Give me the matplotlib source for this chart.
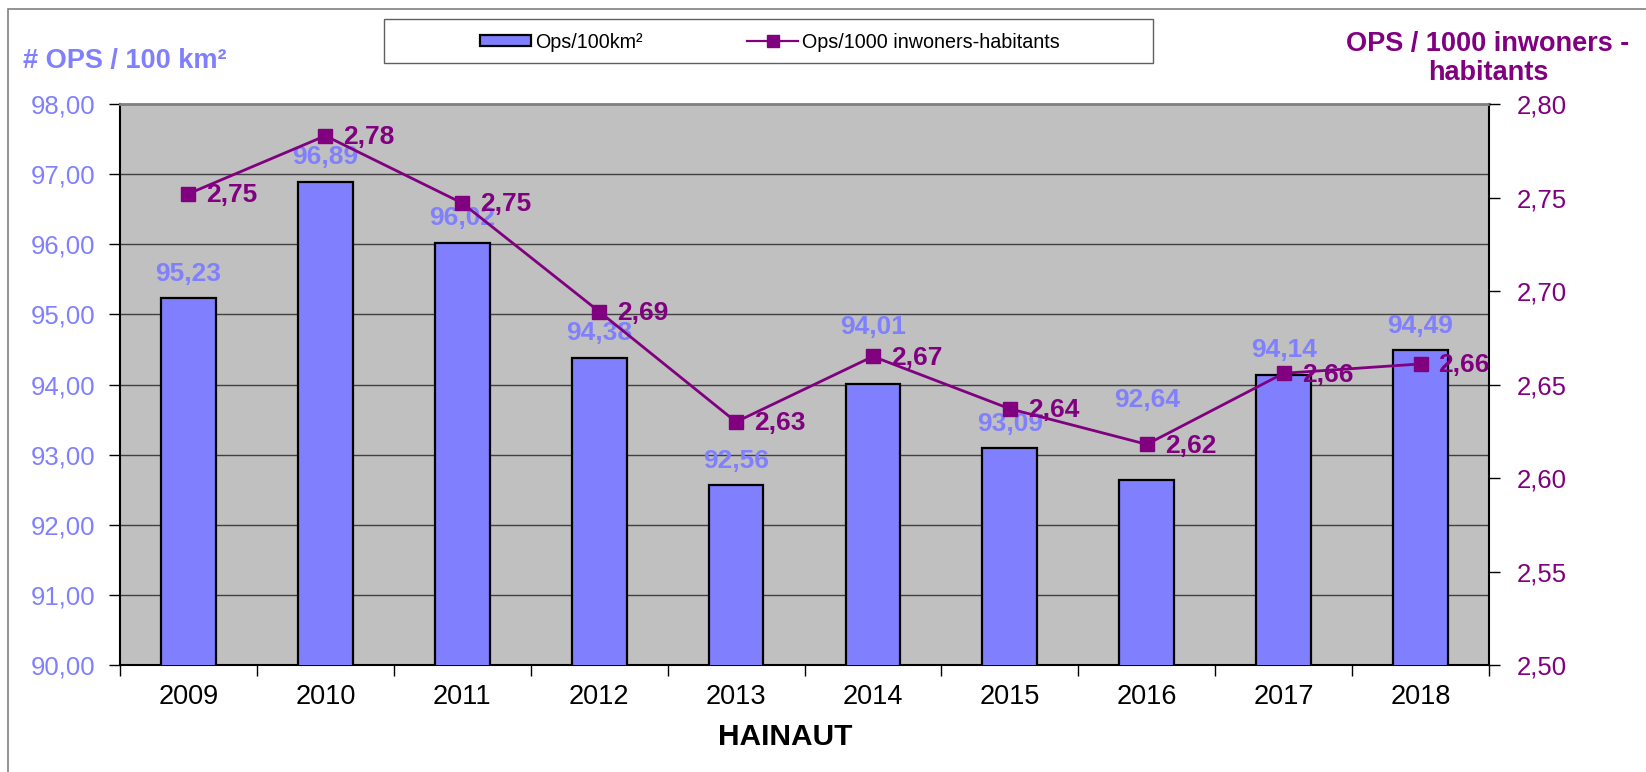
import numpy as np
import matplotlib.pyplot as plt
from matplotlib.patches import Rectangle
from matplotlib.lines import Line2D
from matplotlib.patches import Patch

plt.rcParams['font.family'] = ['Liberation Sans', 'DejaVu Sans']

years = ['2009', '2010', '2011', '2012', '2013', '2014', '2015', '2016', '2017', '2018']
ops_km2 = [95.23, 96.89, 96.02, 94.38, 92.56, 94.01, 93.09, 92.64, 94.14, 94.49]
ops_inh = [2.752, 2.783, 2.747, 2.689, 2.630, 2.665, 2.637, 2.618, 2.656, 2.661]

blue = '#8080FF'
purple = '#800080'

# some bar labels were moved up by hand in the original chart (points)
bar_label_lift = {'2014': 23, '2016': 40}

fig = plt.figure(figsize=(16.46, 7.72), dpi=100)
W, H = 1646, 772

# outer chart frame
fig.patches.append(Rectangle((8 / W, -0.1), 1.2, 1 - 9 / H + 0.1, transform=fig.transFigure,
                             fill=False, edgecolor='#808080', linewidth=1.2))

ax = fig.add_axes([120 / W, 1 - 665 / H, (1489 - 120) / W, (665 - 104) / H])
ax.set_facecolor('#C0C0C0')
x = np.arange(len(years))

ax.bar(x, ops_km2, width=0.4, color=blue, edgecolor='black', linewidth=1.6, zorder=3)
ax.set_ylim(90, 98)
ax.set_xlim(-0.5, len(years) - 0.5)
ax.set_yticks(np.arange(90, 98.1, 1))
ax.set_yticklabels([f'{v:.2f}'.replace('.', ',') for v in np.arange(90, 98.1, 1)],
                   color=blue, fontsize=18.5)
ax.yaxis.grid(True, color='#404040', linewidth=1.0, zorder=0)
ax.set_axisbelow(True)
ax.set_xticks(x)
ax.set_xticklabels(years, fontsize=19.5)
ax.set_xticks(np.arange(-0.5, len(years)), minor=True)
ax.tick_params(axis='x', which='major', length=0, pad=14)
ax.tick_params(axis='x', which='minor', length=8, width=1)
ax.tick_params(axis='y', length=8, width=1, pad=10)
ax.spines['top'].set_color('#808080')
ax.spines['top'].set_linewidth(2)
for s in ['left', 'bottom', 'right']:
    ax.spines[s].set_linewidth(1.5)

for xi, yr, v in zip(x, years, ops_km2):
    ax.annotate(f'{v:.2f}'.replace('.', ','), (xi, v), xytext=(0, 9 + bar_label_lift.get(yr, 0)),
                textcoords='offset points', ha='center', va='bottom', color=blue,
                fontsize=19, fontweight='bold', zorder=6)

ax2 = ax.twinx()
ax2.plot(x, ops_inh, color=purple, linewidth=2, marker='s', markersize=10.5, zorder=5)
ax2.set_ylim(2.5, 2.8)
ax2.set_yticks(np.arange(2.5, 2.801, 0.05))
ax2.set_yticklabels([f'{v:.2f}'.replace('.', ',') for v in np.arange(2.5, 2.801, 0.05)],
                    color=purple, fontsize=18.5)
ax2.tick_params(axis='y', length=8, width=1, pad=12)
for s in ax2.spines.values():
    s.set_visible(False)

for xi, v in zip(x, ops_inh):
    ax2.annotate(f'{v:.2f}'.replace('.', ','), (xi, v), xytext=(13, -1), textcoords='offset points',
                 ha='left', va='center', color=purple, fontsize=19, fontweight='bold')

fig.text(785 / W, 1 - 737 / H, 'HAINAUT', ha='center', va='center', fontsize=21.5, fontweight='bold')
fig.text(23 / W, 1 - 61 / H, '# OPS / 100 km²', ha='left', va='center', fontsize=19.5,
         fontweight='bold', color=blue)
fig.text(1488 / W, 1 - 58 / H, 'OPS / 1000 inwoners -\nhabitants', ha='center', va='center',
         fontsize=19.5, fontweight='bold', color=purple, linespacing=1.15)

# legend
fig.patches.append(Rectangle((384 / W, 1 - 63 / H), (1153 - 384) / W, 44 / H, transform=fig.transFigure,
                             fill=False, edgecolor='#606060', linewidth=1))
handles = [Patch(facecolor=blue, edgecolor='black', linewidth=1.6),
           Line2D([], [], color=purple, linewidth=1.6, marker='s', markersize=9)]
fig.legend(handles, ['Ops/100km²', 'Ops/1000 inwoners-habitants'], loc='center',
           bbox_to_anchor=(770 / W, 1 - 42 / H), ncol=2, frameon=False, fontsize=14.2,
           handlelength=2.6, handleheight=0.55, handletextpad=0.2, columnspacing=5.3)

fig.savefig('out.png', dpi=100)
